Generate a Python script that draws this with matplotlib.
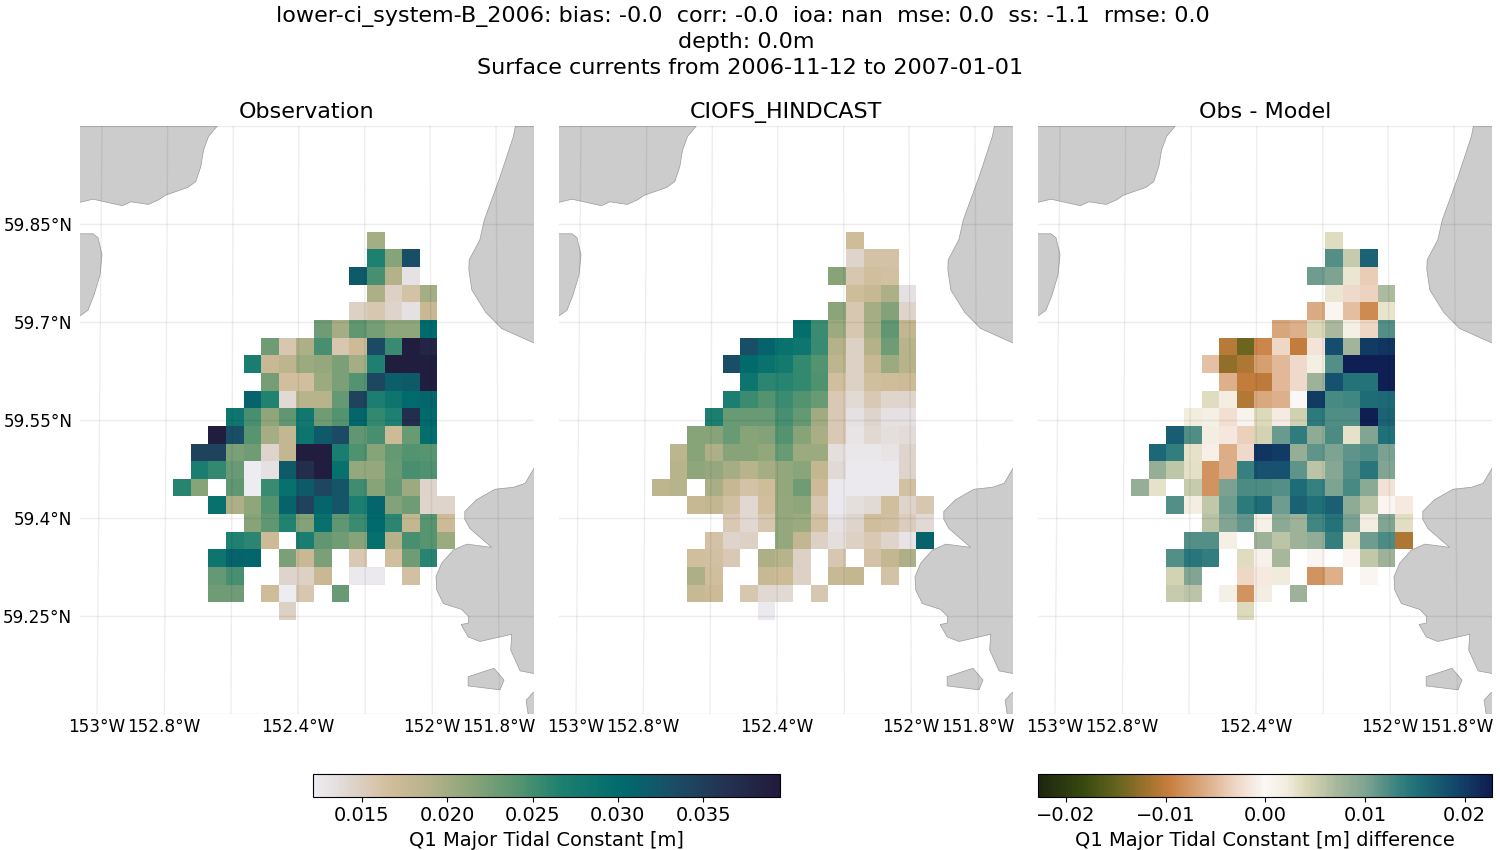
import numpy as np
import matplotlib
matplotlib.use("Agg")
import matplotlib.pyplot as plt
from matplotlib.colors import LinearSegmentedColormap
from matplotlib.transforms import ScaledTranslation

N = np.nan

# Q1 amplitude per grid cell in mm, north to south
obs_mm = [
    [N, N, N, N, N, N, N, N, N, N, N, 20, N, N, N, N],
    [N, N, N, N, N, N, N, N, N, N, N, 26.6, 21.6, 33, N, N],
    [N, N, N, N, N, N, N, N, N, N, 32, 24.8, 19, 13.2, N, N],
    [N, N, N, N, N, N, N, N, N, N, N, 19.5, 14.7, 16.1, 20, N],
    [N, N, N, N, N, N, N, N, N, N, 14.7, 15.7, 14.4, 13.4, 17.4, N],
    [N, N, N, N, N, N, N, N, 22.8, 20, 23.6, 22.5, 21.2, 21.2, 30.2, N],
    [N, N, N, N, N, 22.8, 15.7, 19.5, 24.8, 15.7, 17, 33.5, 25.4, 39, 38, N],
    [N, N, N, N, 27.2, 17.4, 18.4, 20.4, 20.8, 22.2, 20, 26.6, 39, 39, 39, N],
    [N, N, N, N, N, 22.5, 16.6, 16.6, 20.4, 22.2, 24.3, 34, 31.5, 32, 39, N],
    [N, N, N, N, 31, 26.4, 14, 18.8, 18.8, 23.4, 34.5, 26.9, 28.5, 30.2, 30.7, N],
    [N, N, N, 28.3, 24.8, 21.2, 23.6, 28, 22.8, 24.3, 30.7, 25.7, 26.6, 37, 30.2, N],
    [N, N, 39, 33, 24, 20, 17.8, 28.7, 32, 33.5, 23.6, 24.8, 17, 23.2, 29.7, N],
    [N, 34.5, 34.5, 22.2, 22.8, 14.4, 17.8, 39, 39, 27.2, 24.5, 21.6, 23.4, 24.3, 24.1, N],
    [N, 27.2, 25.7, 23.2, 12.3, 13.4, 32, 37, 39, 29.2, 20.8, 20.8, 23.2, 24.8, 24.5, N],
    [26.2, 21.6, N, 23.6, 12.3, 25.4, 29.2, 32, 34, 32.5, 25.1, 21.6, 23.4, 20.4, 14.4, N],
    [N, N, 29.2, 19.5, 21.2, 24.3, 31, 34.5, 30.7, 32.5, 26.9, 30.7, 21.8, 22.8, 14.4, 14.4],
    [N, N, N, N, 21.6, 23.6, 26.4, 21.8, 29.2, 23.6, 25.3, 30.2, 26, 17.8, 24, 17],
    [N, N, N, 26.6, 26, 17, N, 27.2, 23.6, 22.8, 21.6, 29.4, 19, 24.8, 24, 20.4],
    [N, N, 28.5, 31, 30.7, N, 22.2, 17.4, 22.2, N, 15.5, N, 16.6, 22.8, 26.2, N],
    [N, N, 23.4, 24.8, N, N, 14.4, 14.7, 17.4, N, 12.5, 12.5, N, 16.4, N, N],
    [N, N, 22.8, 22.8, N, 16.8, 12.3, 15.7, N, 23.2, N, N, N, N, N, N],
    [N, N, N, N, N, N, 14.7, N, N, N, N, N, N, N, N, N],
]

model_mm = [
    [N, N, N, N, N, N, N, N, N, N, N, 16.8, N, N, N, N],
    [N, N, N, N, N, N, N, N, N, N, N, 14.4, 16.1, 16.1, N, N],
    [N, N, N, N, N, N, N, N, N, N, 21.6, 15.7, 16.6, 16.3, N, N],
    [N, N, N, N, N, N, N, N, N, N, N, 16.8, 17.6, 19.5, 13.4, N],
    [N, N, N, N, N, N, N, N, N, N, 21.4, 15.7, 20, 21.8, 14.4, N],
    [N, N, N, N, N, N, N, N, 29.7, 25.3, 20.4, 15.7, 20, 23.6, 17.8, N],
    [N, N, N, N, N, 33, 31, 29, 28.3, 25.4, 19, 14.7, 19, 22.8, 18.8, N],
    [N, N, N, N, 33, 30.2, 29, 27.8, 25.7, 24.3, 18.4, 14.7, 17.4, 20.4, 18.8, N],
    [N, N, N, N, N, 28.7, 26, 26.2, 25.7, 24.5, 16.6, 14.7, 16.6, 16.8, 17, N],
    [N, N, N, N, 26.9, 25.3, 24.3, 25.3, 24.3, 23.2, 15.5, 14, 15.5, 14.3, 14.3, N],
    [N, N, N, 26.9, 23.2, 23.2, 23.2, 24.8, 23.4, 20.2, 15.5, 13.4, 14.4, 13.4, 13.4, N],
    [N, N, 21.6, 21.6, 23.2, 21.6, 21.8, 24.3, 21.6, 19.7, 15.5, 13, 14.1, 13.6, 13.8, N],
    [N, 18.4, 21.6, 19.5, 21.6, 21.6, 21, 23.2, 20.4, 20.4, 13.6, 12.7, 12.7, 13, 14.4, N],
    [N, 18.8, 21.2, 20.8, 20, 18.8, 20, 21, 21.4, 17.8, 14, 12.5, 12.5, 12.5, 14.4, N],
    [18.4, 18.8, N, 19.7, 17.6, 16.1, 16.8, 21, 22.8, 17, 12.5, 12.5, 12.5, 12.5, 16.3, N],
    [N, N, 17.6, 17.8, 16.3, 14.1, 16.6, 20.8, 21.2, 15.7, 12.5, 13.6, 14, 16.6, 14.4, 15.7],
    [N, N, N, N, 15.5, 14.1, 15.7, 20.8, 20.4, 16.3, 13.2, 14.4, 16.7, 16.4, 15.1, 14],
    [N, N, N, 16.1, 14.4, 14.7, N, 20.8, 17.8, 14.7, 13.6, 14.7, 15.5, 14.4, 13, 31],
    [N, N, 16.6, 16.4, 15.5, N, 19.5, 18.8, 14.7, N, 15.7, N, 16.1, 17.8, 19.5, N],
    [N, N, 19.5, 16.6, N, N, 17.5, 17, 14.7, N, 17.5, 17.8, N, 16.1, N, N],
    [N, N, 17.5, 17, N, 15.7, 14.1, 14, N, 15.7, N, N, N, N, N, N],
    [N, N, N, N, N, N, 12.5, N, N, N, N, N, N, N, N, N],
]

# the other two clip at the colorbar ends
diff_mm = [
    [N, N, N, N, N, N, N, N, N, N, N, 3.6, N, N, N, N],
    [N, N, N, N, N, N, N, N, N, N, N, 12, 5.2, 16.5, N, N],
    [N, N, N, N, N, N, N, N, N, N, 10.8, 10, 2.8, -3.6, N, N],
    [N, N, N, N, N, N, N, N, N, N, N, 2.7, -2.8, -3.3, 6.8, N],
    [N, N, N, N, N, N, N, N, N, N, -6.2, -0.3, -4.8, -8.6, 3, N],
    [N, N, N, N, N, N, N, N, -6.5, -5.8, 4, 7, 1.5, -3, 12, N],
    [N, N, N, N, N, -10.5, -14.5, -9, -3, -9.8, -1.8, 18.5, 7.5, 20, 20.5, N],
    [N, N, N, N, -4.6, -12.5, -11, -7, -5, -2.7, 1.7, 12, 22.5, 22.5, 22.5, N],
    [N, N, N, N, N, -5.8, -9.8, -10.3, -5, -2.7, 8, 18, 14.8, 14.8, 22.5, N],
    [N, N, N, N, 3.6, 1.8, -10.7, -6.3, -5.8, -0.1, 20, 12.5, 13, 15.5, 15.7, N],
    [N, N, N, 2, 1.6, -2.2, -0.4, 3.8, -1.2, 4.8, 14.2, 12.2, 12.2, 22.5, 16.5, N],
    [N, N, 17, 12.2, 1.8, -1.6, -3.5, 4.6, 11, 14, 9, 12.4, 3.1, 9.8, 15.2, N],
    [N, 16, 13.8, 3.1, -0.8, -6, -2.7, 20.5, 20, 8.5, 11.5, 10, 11.5, 12.2, 10.2, N],
    [N, 8.5, 5.8, 3.3, -8, -6, 13.5, 18, 18, 11.5, 6, 9.5, 12, 14.5, 9.8, N],
    [8.5, 3.1, N, 5.2, -8, 10.2, 12.4, 12.4, 12, 15.6, 13.4, 10, 12.6, 9.2, -2, N],
    [N, N, 12, 1.8, 5.6, 10.8, 14.2, 15.6, 10.8, 16.6, 15.2, 16.8, 9, 6, -0.2, -1.4],
    [N, N, N, N, 6.2, 9.8, 11.3, 1.4, 9.2, 8, 13, 14.8, 10.2, 1.9, 9.8, 3.5],
    [N, N, N, 12, 12, 1.6, N, 8, 6, 8, 8.6, 13.6, 3, 10.8, 12.4, -11],
    [N, N, 12, 14.6, 13.8, N, 3.6, -0.6, 7.2, N, -0.3, N, -0.3, 5.6, 8, N],
    [N, N, 4.6, 9.8, N, N, -3, -1.4, 2.2, N, -8, -5.8, N, -0.3, N, N],
    [N, N, 5.2, 6, N, 1.5, -8, 1.9, N, 8, N, N, N, N, N, N],
    [N, N, N, N, N, N, 3.9, N, N, N, N, N, N, N, N, N],
]

lon_edges = np.linspace(-152.773, -151.931, 17)
lat_edges = np.linspace(59.838, 59.244, 23)

# coastlines, (lon, lat)
land_nw = [(-153.06, 60.0), (-152.641, 60.0), (-152.667, 59.984), (-152.682, 59.963), (-152.690, 59.938),
           (-152.705, 59.915), (-152.729, 59.906), (-152.796, 59.894), (-152.816, 59.887), (-152.847, 59.880),
           (-152.899, 59.884), (-152.924, 59.878), (-153.012, 59.888), (-153.06, 59.882)]
land_w = [(-153.06, 59.835), (-153.012, 59.835), (-152.997, 59.829), (-152.985, 59.803), (-152.991, 59.772),
          (-153.009, 59.741), (-153.027, 59.718), (-153.06, 59.706)]
land_ne = [(-151.751, 60.0), (-151.757, 59.984), (-151.797, 59.922), (-151.844, 59.856), (-151.857, 59.826),
           (-151.889, 59.795), (-151.890, 59.780), (-151.881, 59.749), (-151.840, 59.715), (-151.792, 59.690),
           (-151.696, 59.668), (-151.68, 59.665), (-151.68, 60.0)]
land_se = [(-151.690, 59.481), (-151.722, 59.453), (-151.757, 59.447), (-151.812, 59.444), (-151.867, 59.428),
           (-151.902, 59.410), (-151.902, 59.398), (-151.887, 59.384), (-151.822, 59.355), (-151.896, 59.360),
           (-151.936, 59.351), (-151.971, 59.331), (-151.988, 59.310), (-151.986, 59.290), (-151.966, 59.269),
           (-151.911, 59.260), (-151.890, 59.249), (-151.892, 59.239), (-151.913, 59.237), (-151.892, 59.218),
           (-151.857, 59.211), (-151.762, 59.222), (-151.765, 59.198), (-151.737, 59.166), (-151.696, 59.162),
           (-151.68, 59.162), (-151.68, 59.481)]
land_island = [(-151.892, 59.157), (-151.815, 59.170), (-151.785, 59.152), (-151.797, 59.137), (-151.892, 59.143)]
land_corner = [(-151.719, 59.121), (-151.698, 59.133), (-151.68, 59.133), (-151.68, 59.09), (-151.713, 59.10)]
land_parts = [land_nw, land_w, land_ne, land_se, land_island, land_corner]

# meridians lean a little, lon where each one meets the top and bottom edge
merid_top = [-152.985, -152.789, -152.593, -152.398, -152.201, -152.006, -151.809]
merid_bottom = [-153.0, -152.799, -152.600, -152.400, -152.199, -151.999, -151.799]
parallels = [60.0, 59.85, 59.7, 59.55, 59.4, 59.25, 59.1]

lon_ticks = [-153, -152.8, -152.4, -152, -151.8]
lon_labels = ["153°W", "152.8°W", "152.4°W", "152°W", "151.8°W"]
lat_ticks = [59.85, 59.7, 59.55, 59.4, 59.25]
lat_labels = ["59.85°N", "59.7°N", "59.55°N", "59.4°N", "59.25°N"]

obs_ticks = [0.015, 0.020, 0.025, 0.030, 0.035]
diff_ticks = [-0.02, -0.01, 0.00, 0.01, 0.02]

panel_titles = ["Observation", "CIOFS_HINDCAST", "Obs - Model"]
# the trailing spaces are in the original, they push the short lines off centre
title_text = ("lower-ci_system-B_2006: bias: -0.0  corr: -0.0  ioa: nan  mse: 0.0  ss: -1.1  rmse: 0.0  \n"
              "depth: 0.0m \nSurface currents from 2006-11-12 to 2007-01-01")

rain = LinearSegmentedColormap.from_list("rain", [
    (0.0, "#EEEDF3"), (0.05, "#E4DEDE"), (0.12, "#D9C8B5"), (0.17, "#CFBC98"), (0.25, "#B5B28A"),
    (0.33, "#8FA67B"), (0.44, "#559470"), (0.53, "#1D8070"), (0.66, "#006B6D"), (0.77, "#1A4E66"),
    (0.88, "#243352"), (1.0, "#211A3B")])
diff_cmap = LinearSegmentedColormap.from_list("diff", [
    (0.0, "#1E2510"), (0.1, "#384A10"), (0.18, "#6B6520"), (0.25, "#A87530"), (0.29, "#C87F40"),
    (0.356, "#D8A57A"), (0.437, "#EFD8C8"), (0.5, "#FBF8F5"), (0.546, "#F2EDDF"), (0.59, "#DAD7B7"),
    (0.657, "#A8B89C"), (0.72, "#7FA492"), (0.79, "#3A8380"), (0.835, "#1F7078"), (0.915, "#13496C"),
    (1.0, "#0F1C52")])

W, H = 1500, 850


def px_axes(fig, x0, x1, y0, y1):
    return fig.add_axes([x0 / W, 1 - y1 / H, (x1 - x0) / W, (y1 - y0) / H])


obs = np.array(obs_mm) / 1000
model = np.array(model_mm) / 1000
diff = np.array(diff_mm) / 1000

fig = plt.figure(figsize=(15, 8.5), dpi=100)
fig.text(0.5, 1 - 6 / H, title_text, ha="center", va="top", fontsize=16, linespacing=1.33)

panels = [(80, 534, obs, rain, 0.01213, 0.0395), (559, 1013, model, rain, 0.01213, 0.0395),
          (1038, 1492, diff, diff_cmap, -0.0228, 0.0228)]
meshes = []
for i, (x0, x1, vals, cmap, vmin, vmax) in enumerate(panels):
    ax = px_axes(fig, x0, x1, 126, 714)
    for part in land_parts:
        ax.fill(*zip(*part), facecolor="#CCCCCC", edgecolor="#999999", linewidth=0.5, zorder=1)
    mesh = ax.pcolormesh(lon_edges, lat_edges, vals, cmap=cmap, vmin=vmin, vmax=vmax, zorder=2)
    meshes.append(mesh)
    for top, bottom in zip(merid_top, merid_bottom):
        ax.plot([top, bottom], [60.0, 59.1], color="k", alpha=0.07, lw=1, zorder=3)
    for lat in parallels:
        ax.axhline(lat, color="k", alpha=0.07, lw=1, zorder=3)
    ax.set_xlim(-153.0507, -151.6955)
    ax.set_ylim(59.1, 60.0)
    ax.set_xticks(lon_ticks, lon_labels, fontsize=12.2)
    if i == 0:
        ax.set_yticks(lat_ticks, lat_labels, fontsize=12.2)
        for lab in ax.get_yticklabels():
            lab.set_transform(lab.get_transform() + ScaledTranslation(0, 1.5 / 100, fig.dpi_scale_trans))
    else:
        ax.set_yticks([])
    ax.tick_params(axis="x", length=0, pad=3)
    ax.tick_params(axis="y", length=0, pad=5.5)
    for s in ax.spines.values():
        s.set_visible(False)
    ax.set_title(panel_titles[i], fontsize=16, pad=6)

cax1 = px_axes(fig, 313, 780, 774, 797)
cb1 = fig.colorbar(meshes[0], cax=cax1, orientation="horizontal")
cb1.set_ticks(obs_ticks, labels=["0.015", "0.020", "0.025", "0.030", "0.035"])
cb1.ax.tick_params(labelsize=14, pad=3)
cb1.set_label("Q1 Major Tidal Constant [m]", fontsize=14, labelpad=4)

cax2 = px_axes(fig, 1038, 1492.5, 774, 797)
cb2 = fig.colorbar(meshes[2], cax=cax2, orientation="horizontal")
cb2.set_ticks(diff_ticks, labels=["\u22120.02", "\u22120.01", "0.00", "0.01", "0.02"])
cb2.ax.tick_params(labelsize=14, pad=3)
cb2.set_label("Q1 Major Tidal Constant [m] difference", fontsize=14, labelpad=4)

fig.savefig("out.png", dpi=100)
